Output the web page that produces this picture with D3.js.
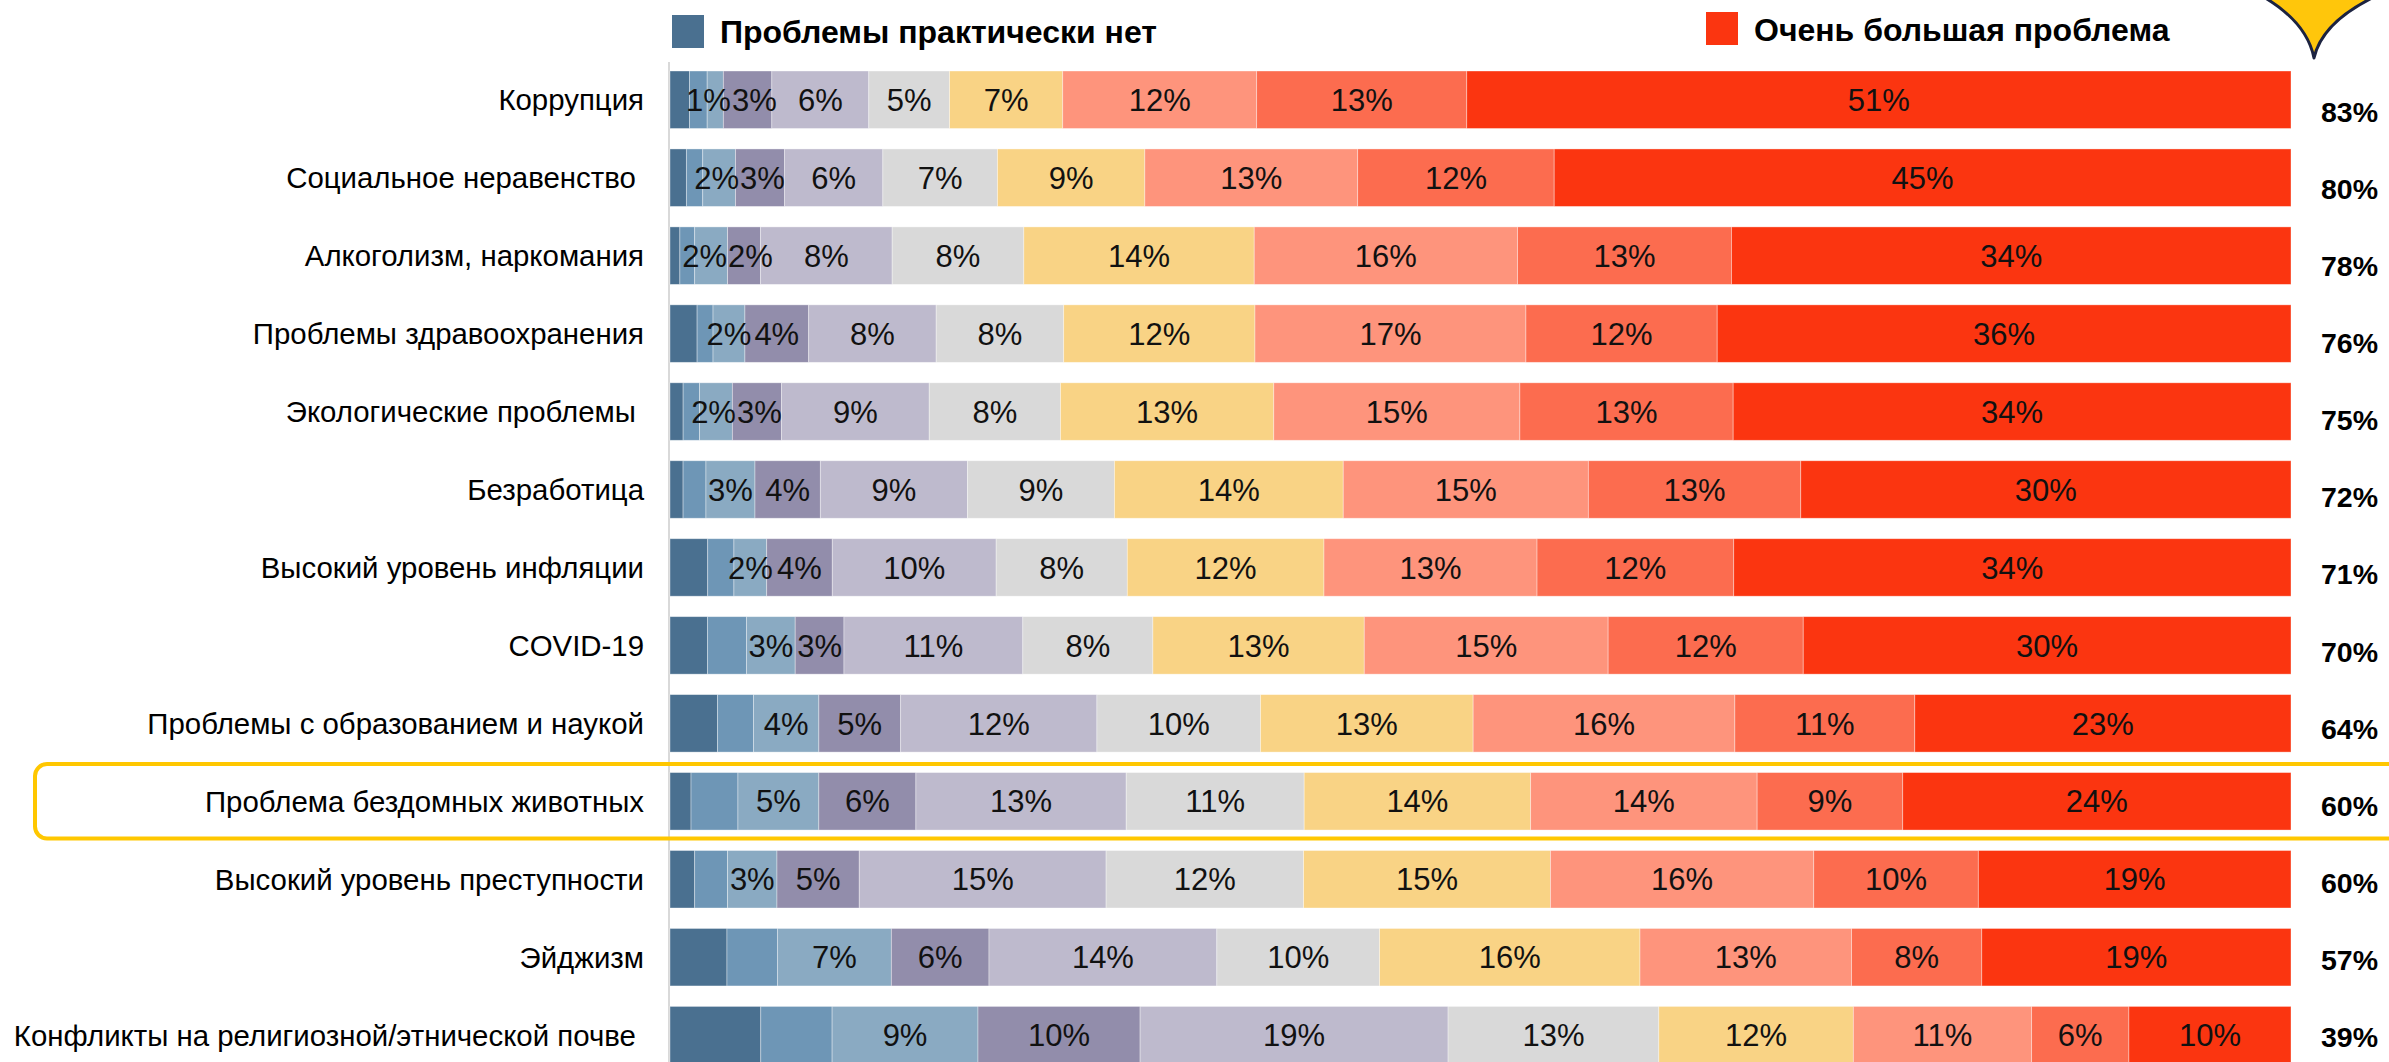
<!DOCTYPE html>
<html>
<head>
<meta charset="utf-8">
<script src="https://cdn.jsdelivr.net/npm/d3@7/dist/d3.min.js"></script>
<style>
  html, body { margin: 0; padding: 0; background: #fff; }
  svg { display: block; }
</style>
</head>
<body>
<svg id="chart" width="2389" height="1062"></svg>
<script>
// ---- data ----
const categories = [
  "Коррупция",
  "Социальное неравенство\u00a0",
  "Алкоголизм, наркомания",
  "Проблемы здравоохранения",
  "Экологические проблемы\u00a0",
  "Безработица",
  "Высокий уровень инфляции",
  "COVID-19",
  "Проблемы с образованием и наукой",
  "Проблема бездомных животных",
  "Высокий уровень преступности",
  "Эйджизм",
  "Конфликты на религиозной/этнической почве\u00a0"
];
const seriesKeys = ["s1","s2","s3","s4","s5","s6","s7","s8","s9","s10"];
const s1  = [1.2, 1.0, 0.6, 1.7, 0.8, 0.8, 2.3, 2.3, 2.9, 1.3, 1.5, 3.5, 5.6];
const s2  = [1.1, 1.0, 0.9, 1.0, 1.0, 1.4, 1.6, 2.4, 2.2, 2.9, 2.0, 3.1, 4.4];
const s3  = [1, 2, 2, 2, 2, 3, 2, 3, 4, 5, 3, 7, 9];
const s4  = [3, 3, 2, 4, 3, 4, 4, 3, 5, 6, 5, 6, 10];
const s5  = [6, 6, 8, 8, 9, 9, 10, 11, 12, 13, 15, 14, 19];
const s6  = [5, 7, 8, 8, 8, 9, 8, 8, 10, 11, 12, 10, 13];
const s7  = [7, 9, 14, 12, 13, 14, 12, 13, 13, 14, 15, 16, 12];
const s8  = [12, 13, 16, 17, 15, 15, 13, 15, 16, 14, 16, 13, 11];
const s9  = [13, 12, 13, 12, 13, 13, 12, 12, 11, 9, 10, 8, 6];
const s10 = [51, 45, 34, 36, 34, 30, 34, 30, 23, 24, 19, 19, 10];
const totals = [83, 80, 78, 76, 75, 72, 71, 70, 64, 60, 60, 57, 39];
const labeledSeries = ["s3","s4","s5","s6","s7","s8","s9","s10"];
const legendLabels = ["Проблемы практически нет", "Очень большая проблема"];
const highlighted = "Проблема бездомных животных";
const colors = ["#4a7090","#6e96b6","#8aaac2","#928dab","#bebacd","#d9d9d9","#f9d385","#fe947c","#fc6c4f","#fb3510"];

// ---- build table ----
const seriesArrays = [s1,s2,s3,s4,s5,s6,s7,s8,s9,s10];
const table = categories.map((c, i) => {
  const row = { category: c };
  seriesKeys.forEach((k, j) => row[k] = seriesArrays[j][i]);
  return row;
});

const svg = d3.select("#chart");
const font = "'Liberation Sans', Arial, sans-serif";

const x = d3.scaleLinear().domain([0, 1]).range([670, 2291]);
const y = d3.scaleBand().domain(categories).range([71, 1063.9]).paddingInner(0.2625).paddingOuter(0);
const yTot = d3.scalePoint().domain(categories).range([111.7, 1036.7]);
const color = d3.scaleOrdinal().domain(seriesKeys).range(colors);

const stack = d3.stack().keys(seriesKeys).offset(d3.stackOffsetExpand);
const stacked = stack(table);

// axis line
svg.append("line")
  .attr("x1", 669).attr("x2", 669)
  .attr("y1", 62).attr("y2", 1062)
  .attr("stroke", "#d9d9d9").attr("stroke-width", 2);

// bars
const layers = svg.append("g").selectAll("g")
  .data(stacked).join("g")
  .attr("fill", d => color(d.key));

layers.selectAll("rect")
  .data(d => d)
  .join("rect")
  .attr("x", d => x(d[0]))
  .attr("y", d => y(d.data.category))
  .attr("width", d => x(d[1]) - x(d[0]))
  .attr("height", y.bandwidth())
  .attr("stroke", "#ffffff")
  .attr("stroke-opacity", 0.45)
  .attr("stroke-width", 0.8);

// segment labels
const labelG = svg.append("g")
  .attr("font-family", font)
  .attr("font-size", 31)
  .attr("fill", "#111")
  .attr("text-anchor", "middle");

const labelNodes = [];
stacked.filter(l => labeledSeries.includes(l.key)).forEach(layer => {
  labelG.selectAll(null)
    .data(layer)
    .join("text")
    .attr("x", d => (x(d[0]) + x(d[1])) / 2)
    .attr("y", d => y(d.data.category) + y.bandwidth() / 2)
    .attr("dy", "0.36em")
    .text(d => d.data[layer.key] + "%")
    .each(function(d) { labelNodes.push({ node: this, cat: d.data.category, cx: (x(d[0]) + x(d[1])) / 2 }); });
});

// simple collision pass: push neighbouring labels apart within a row
categories.forEach(cat => {
  const row = labelNodes.filter(l => l.cat === cat).sort((a, b) => a.cx - b.cx);
  row.forEach(l => { l.w = l.node.getComputedTextLength(); });
  for (let iter = 0; iter < 4; iter++) {
    for (let i = 0; i < row.length - 1; i++) {
      const a = row[i], b = row[i + 1];
      const gap = (b.cx - b.w / 2) - (a.cx + a.w / 2);
      if (gap < 1) {
        const shift = (1 - gap) / 2;
        a.cx -= shift; b.cx += shift;
      }
    }
  }
  row.forEach(l => d3.select(l.node).attr("x", l.cx));
});

// category labels
svg.append("g")
  .attr("font-family", font)
  .attr("font-size", 29.4)
  .attr("fill", "#000")
  .attr("text-anchor", "end")
  .selectAll("text")
  .data(categories).join("text")
  .attr("x", 644)
  .attr("y", d => y(d) + y.bandwidth() / 2)
  .attr("dy", "0.36em")
  .text(d => d);

// totals
svg.append("g")
  .attr("font-family", font)
  .attr("font-weight", "bold")
  .attr("font-size", 28.5)
  .attr("fill", "#000")
  .selectAll("text")
  .data(categories).join("text")
  .attr("x", 2321)
  .attr("y", d => yTot(d))
  .attr("dy", "0.36em")
  .text((d, i) => totals[i] + "%");

// legend
const legendItems = [
  { label: legendLabels[0], key: "s1", sx: 672, sy: 15, tx: 720, ty: 43 },
  { label: legendLabels[1], key: "s10", sx: 1706, sy: 12, tx: 1754, ty: 41 }
];
const lg = svg.append("g");
lg.selectAll("rect").data(legendItems).join("rect")
  .attr("x", d => d.sx).attr("y", d => d.sy)
  .attr("width", 32).attr("height", 33)
  .attr("fill", d => color(d.key));
lg.selectAll("text").data(legendItems).join("text")
  .attr("x", d => d.tx).attr("y", d => d.ty)
  .attr("font-family", font)
  .attr("font-weight", "bold")
  .attr("font-size", 32)
  .attr("fill", "#000")
  .text(d => d.label);

// highlight box
svg.append("rect")
  .attr("x", 35)
  .attr("y", y(highlighted) - 8.5)
  .attr("width", 2400)
  .attr("height", y.bandwidth() + 17)
  .attr("rx", 12).attr("ry", 12)
  .attr("fill", "none")
  .attr("stroke", "#ffc700")
  .attr("stroke-width", 4);

// decorative star point (top right)
svg.append("path")
  .attr("d", "M2262,-4 Q2307,22 2314,58 Q2322,22 2376,-4 Z")
  .attr("fill", "#ffc60b")
  .attr("stroke", "#1c2340")
  .attr("stroke-width", 3)
  .attr("stroke-linejoin", "round");
</script>
</body>
</html>
